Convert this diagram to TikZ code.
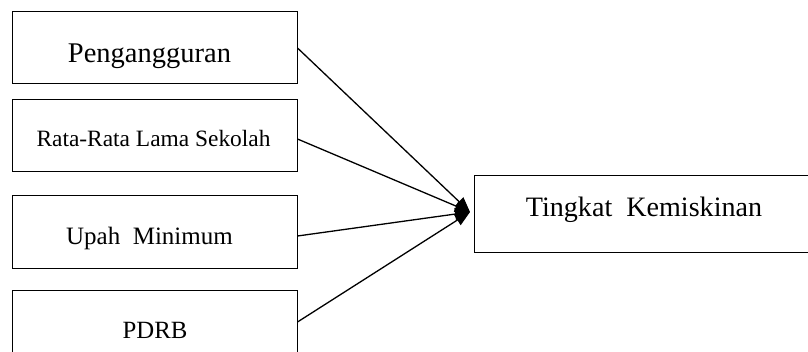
\documentclass[tikz,border=0pt]{standalone}
\usepackage{fontspec}
\setmainfont{Liberation Serif}
\usetikzlibrary{arrows.meta}
\tikzset{
  factor/.style={draw, line width=1pt, rectangle, inner sep=0pt},
  caption/.style={inner sep=0pt, anchor=base},
  link/.style={line width=1.3pt, -{Triangle[length=15pt,width=12pt]}}
}
\begin{document}
\begin{tikzpicture}[x=1pt,y=-1pt]
  \clip (0,0) rectangle (808,352);
  % independent variables
  \node[factor, minimum width=285pt, minimum height=72pt] (b1) at (154.5,48) {};
  \node[factor, minimum width=285pt, minimum height=72pt] (b2) at (154.5,136) {};
  \node[factor, minimum width=285pt, minimum height=73pt] (b3) at (154.5,232.5) {};
  \node[factor, minimum width=285pt, minimum height=80pt] (b4) at (154.5,331) {};
  % dependent variable
  \node[factor, minimum width=345pt, minimum height=77pt] (y) at (646.5,214.5) {};
  % captions, placed on their baselines
  \node[caption, font=\fontsize{28.5}{32}\selectfont] (t1) at (149.5,62.7) {Pengangguran};
  \node[caption, font=\fontsize{23.4}{27}\selectfont] (t2) at (153.5,146.7) {Rata-Rata Lama Sekolah};
  \node[caption, font=\fontsize{25}{28}\selectfont] (t3) at (149.5,245) {Upah\ \ Minimum};
  \node[caption, font=\fontsize{24.8}{28}\selectfont] (t4) at (155,338) {PDRB};
  \node[caption, font=\fontsize{28.1}{31}\selectfont] (t5) at (644,217) {Tingkat\ \ Kemiskinan};
  % converging arrows
  \coordinate (hub) at (470,212);
  \draw[link] (b1.east |- 0,48) -- (hub);
  \draw[link] (b2.east |- 0,139) -- (hub);
  \draw[link] (b3.east |- 0,236) -- (hub);
  \draw[link] (b4.east |- 0,322) -- (hub);
\end{tikzpicture}
\end{document}
